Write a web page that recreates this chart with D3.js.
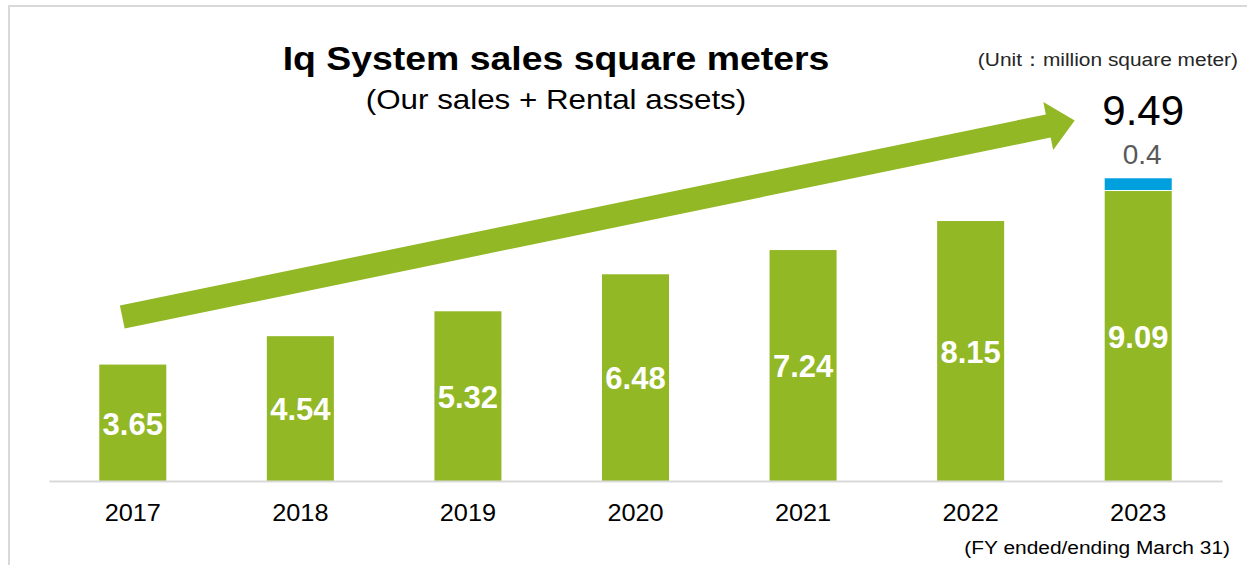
<!DOCTYPE html>
<html>
<head>
<meta charset="utf-8">
<script src="https://cdn.jsdelivr.net/npm/d3@7"></script>
<style>
  html, body { margin: 0; padding: 0; background: #ffffff; }
  svg { display: block; font-family: "Liberation Sans", Arial, sans-serif; }
</style>
</head>
<body>
<div id="main_output"></div>
<script>
// values (million square meters)
var years = ["2017", "2018", "2019", "2020", "2021", "2022", "2023"];
var ourSales = [3.65, 4.54, 5.32, 6.48, 7.24, 8.15, 9.09];
var rentalAssets = [0, 0, 0, 0, 0, 0, 0.4];
var totalLabels = ["", "", "", "", "", "", "9.49"];

const green = "#93b826";
const blue = "#00a0de";

const W = 1247, H = 565;
const baseline = 481;
const stretch = 1.1; // the source text is slightly wider than Arial

var svg = d3.select("#main_output")
  .append("svg")
  .attr("width", W)
  .attr("height", H);

svg.append("rect")
  .attr("width", W).attr("height", H)
  .attr("fill", "#ffffff");

// frame (only top and left edges visible)
svg.append("path")
  .attr("d", "M9," + H + "V6H" + W)
  .attr("fill", "none")
  .attr("stroke", "#d9d9d9")
  .attr("stroke-width", 2);

const x = d3.scaleBand()
  .domain(years)
  .range([49, 1222])
  .paddingInner(0.6)
  .paddingOuter(0.3);

const y = d3.scaleLinear()
  .domain([0, 10])
  .range([baseline, baseline - 319]);

var rows = years.map(function(yr, i) {
  return {year: yr, sales: ourSales[i], rental: rentalAssets[i], total: totalLabels[i]};
});

var plot = svg.append("g").attr("class", "plot");

// green bars
plot.selectAll(".bar-sales")
  .data(rows)
  .enter()
  .append("rect")
  .attr("class", "bar-sales")
  .attr("x", function(d) { return x(d.year); })
  .attr("y", function(d) { return y(d.sales); })
  .attr("width", x.bandwidth())
  .attr("height", function(d) { return y(0) - y(d.sales); })
  .attr("fill", green);

// blue rental part
plot.selectAll(".bar-rental")
  .data(rows.filter(function(d) { return d.rental > 0; }))
  .enter()
  .append("rect")
  .attr("class", "bar-rental")
  .attr("x", function(d) { return x(d.year); })
  .attr("y", function(d) { return y(d.sales + d.rental); })
  .attr("width", x.bandwidth())
  .attr("height", function(d) { return y(d.sales) - y(d.sales + d.rental) - 1; })
  .attr("fill", blue);

// axis baseline
var xAxis = d3.axisBottom(x).tickSize(0).tickPadding(24);
var axisG = svg.append("g")
  .attr("transform", "translate(0," + baseline + ")")
  .call(xAxis);
axisG.select(".domain")
  .attr("stroke", "#d9d9d9")
  .attr("stroke-width", 2);
axisG.selectAll(".tick text")
  .attr("font-size", "23px")
  .attr("font-family", "Liberation Sans, Arial, sans-serif")
  .attr("fill", "#000000")
  .attr("transform", "scale(" + stretch + ",1)");

// value labels inside bars
plot.selectAll(".val")
  .data(rows)
  .enter()
  .append("text")
  .attr("class", "val")
  .attr("x", function(d) { return x(d.year) + x.bandwidth() / 2; })
  .attr("y", function(d) { return (y(0) + y(d.sales)) / 2; })
  .attr("dy", "0.38em")
  .attr("text-anchor", "middle")
  .attr("font-size", "31px")
  .attr("font-weight", "bold")
  .attr("fill", "#ffffff")
  .text(function(d) { return d.sales.toFixed(2); });

// rental label and total label above stack
var topRows = rows.filter(function(d) { return d.rental > 0; });
plot.selectAll(".rental-lbl")
  .data(topRows)
  .enter()
  .append("text")
  .attr("x", function(d) { return x(d.year) + x.bandwidth() / 2 + 4; })
  .attr("y", function(d) { return y(d.sales + d.rental) - 14; })
  .attr("text-anchor", "middle")
  .attr("font-size", "28px")
  .attr("fill", "#595959")
  .text(function(d) { return d.rental; });

plot.selectAll(".total-lbl")
  .data(topRows)
  .enter()
  .append("text")
  .attr("x", function(d) { return x(d.year) + x.bandwidth() / 2 + 5; })
  .attr("y", function(d) { return y(d.sales + d.rental) - 53; })
  .attr("text-anchor", "middle")
  .attr("font-size", "42px")
  .attr("fill", "#000000")
  .text(function(d) { return d.total; });

// growth arrow (positioned in data space)
var arrowFrom = [x("2017") + 23, y(5.14)];
var arrowTo = [x("2023") - 30, y(11.3)];
(function drawArrow(p0, p1) {
  var dx = p1[0] - p0[0], dy = p1[1] - p0[1];
  var len = Math.sqrt(dx * dx + dy * dy);
  var ux = dx / len, uy = dy / len;
  var nx = -uy, ny = ux;
  var shaft = 11.8, head = 24.5, headLen = 27;
  var bx = p1[0] - ux * headLen, by = p1[1] - uy * headLen;
  var pts = [
    [p0[0] + nx * shaft, p0[1] + ny * shaft],
    [bx + nx * shaft, by + ny * shaft],
    [bx + nx * head, by + ny * head],
    [p1[0], p1[1]],
    [bx - nx * head, by - ny * head],
    [bx - nx * shaft, by - ny * shaft],
    [p0[0] - nx * shaft, p0[1] - ny * shaft]
  ];
  svg.append("path")
    .attr("class", "growth-arrow")
    .attr("d", d3.line()(pts) + "Z")
    .attr("fill", green);
})(arrowFrom, arrowTo);

// titles and notes
function note(tx, ty, anchor, size, weight, color, str) {
  svg.append("text")
    .attr("transform", "translate(" + tx + "," + ty + ") scale(" + stretch + ",1)")
    .attr("text-anchor", anchor)
    .attr("font-size", size)
    .attr("font-weight", weight)
    .attr("fill", color)
    .text(str);
}

note(556, 70, "middle", "34px", "bold", "#000000", "Iq System sales square meters");
note(556, 109, "middle", "28.5px", "normal", "#000000", "(Our sales + Rental assets)");
note(1238, 66, "end", "19px", "normal", "#262626", "(Unit：million square meter)");
note(1230, 554, "end", "19px", "normal", "#000000", "(FY ended/ending March 31)");
</script>
</body>
</html>
